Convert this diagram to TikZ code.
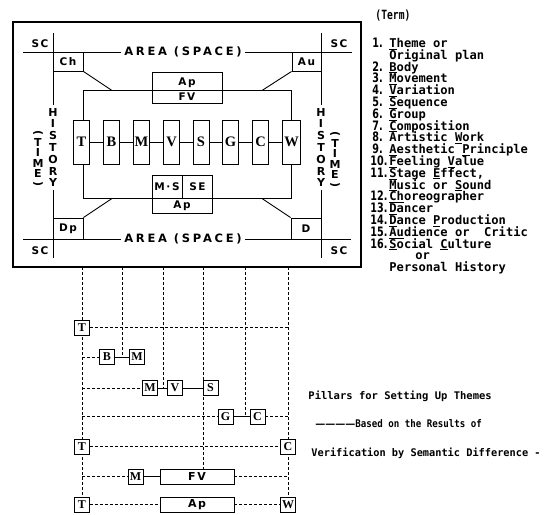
\documentclass[tikz,border=0pt]{standalone}
\usepackage{graphicx}
\usepackage{fontspec}
\setmainfont{DejaVu Sans}
\newfontfamily\rmb{Liberation Serif}
\newfontfamily\monof{DejaVu Sans Mono}
\newfontfamily\areafont{DejaVu Sans}[LetterSpace=24]
\newfontfamily\lblfont{DejaVu Sans}[LetterSpace=14]
\newcommand\uln[1]{\underline{#1}}
\newcommand\nm[1]{{\rmfamily\bfseries\fontsize{13}{13}\selectfont\scalebox{0.74}[1]{#1}}}
\begin{document}
\begin{tikzpicture}[x=1pt,y=-1pt,line width=0.9pt,
  rowbox/.style={draw,fill=white,minimum width=16pt,minimum height=44pt,inner sep=0pt,font=\rmb\bfseries\fontsize{14.5}{14.5}\selectfont},
  lbox/.style={draw,fill=white,minimum width=15pt,minimum height=15pt,inner sep=0pt,font=\rmb\bfseries\fontsize{12}{12}\selectfont},
  wbox/.style={draw,fill=white,minimum width=74pt,minimum height=15pt,inner sep=0pt,font=\lblfont\bfseries\fontsize{11}{11}\selectfont},
  lbl/.style={inner sep=0pt,font=\lblfont\bfseries\fontsize{10.5}{10.5}\selectfont},
  cbox/.style={draw,inner sep=0pt,font=\lblfont\bfseries\fontsize{10.5}{10.5}\selectfont},
  areatxt/.style={inner xsep=3pt,inner ysep=1pt,font=\areafont\bfseries\fontsize{11.5}{11.5}\selectfont},
  vtxt/.style={align=center,inner xsep=0pt,inner ysep=3pt,font=\bfseries\fontsize{11}{11.8}\selectfont},
  ttxt/.style={align=center,inner sep=0pt,font=\bfseries\fontsize{11}{10.2}\selectfont},
  dl/.style={dash pattern=on 3pt off 2pt},
  term/.style={anchor=base west,inner sep=0pt,font=\monof\bfseries\fontsize{12.1}{12.1}\selectfont},
  note/.style={anchor=base west,inner sep=0pt,font=\monof\bfseries\fontsize{10.5}{10.5}\selectfont}
]
\useasboundingbox (0,0) rectangle (546,514);
% outer frame
\draw[line width=1.3pt] (13,22) rectangle (361,267);
% AREA lines
\node[areatxt] (areaT) at (183,52) {AREA (SPACE)};
\node[areatxt] (areaB) at (183,239) {AREA (SPACE)};
\draw (23,52) -- (areaT.west);
\draw (areaT.east) -- (352,52);
\draw (23,239) -- (areaB.west);
\draw (areaB.east) -- (351,239);
% history lines
\node[vtxt] (histL) at (53,147.5) {H\\I\\S\\T\\O\\R\\Y};
\node[vtxt] (histR) at (321,147.5) {H\\I\\S\\T\\O\\R\\Y};
\draw (53,33) -- (histL.north);
\draw (histL.south) -- (53,258);
\draw (321,33) -- (histR.north);
\draw (histR.south) -- (321,258);
\node[ttxt] (timeL) at (38,159) {\rotatebox[origin=c]{-90}{(}\\T\\I\\M\\E\\\rotatebox[origin=c]{-90}{)}};
\node[ttxt] (timeR) at (335,160) {\rotatebox[origin=c]{-90}{(}\\T\\I\\M\\E\\\rotatebox[origin=c]{-90}{)}};
% SC labels
\node[lbl] (sc1) at (40,44) {SC};
\node[lbl] (sc2) at (339,44) {SC};
\node[lbl] (sc3) at (40,251) {SC};
\node[lbl] (sc4) at (339,251) {SC};
% corner boxes
\node[cbox,minimum width=30pt,minimum height=19pt] (ch) at (68,61.5) {Ch};
\node[cbox,minimum width=29pt,minimum height=19pt] (au) at (306.5,61.5) {Au};
\node[cbox,minimum width=30pt,minimum height=21pt] (dp) at (68,228.5) {Dp};
\node[cbox,minimum width=30pt,minimum height=21pt] (dd) at (306,228.5) {D};
% inner rectangle
\coordinate (i1) at (83,90.5);
\coordinate (i2) at (291,198.5);
\draw (i1) rectangle (i2);
\coordinate (d1) at (112,90.5);
\coordinate (d2) at (262,90.5);
\coordinate (d3) at (112,198.5);
\coordinate (d4) at (262,198.5);
\draw (ch.south east) -- (d1);
\draw (au.south west) -- (d2);
\draw (dp.north east) -- (d3);
\draw (dd.north west) -- (d4);
% Ap / FV box
\node[draw,minimum width=70pt,minimum height=31pt,inner sep=0pt] (apfv) at (187,87.5) {};
\node[lbl] (apT) at (187,83) {Ap};
\node[lbl] (fvT) at (187,97) {FV};
% M.S SE / Ap box
\node[draw,minimum width=60pt,minimum height=38pt,inner sep=0pt] (msse) at (182,194) {};
\draw (msse.north) -- (msse.north |- d3);
\node[lbl] (msT) at (167,187) {M{\fontspec{DejaVu Sans}\bfseries\,·\,}S};
\node[lbl] (seT) at (197.5,187) {SE};
\node[lbl] (apB) at (182,206) {Ap};
% row of boxes
\node[rowbox] (rT) at (81.5,142) {T};
\node[rowbox] (rB) at (111.5,142) {B};
\node[rowbox] (rM) at (141.5,142) {M};
\node[rowbox] (rV) at (171.5,142) {V};
\node[rowbox] (rS) at (201,142) {S};
\node[rowbox] (rG) at (230.5,142) {G};
\node[rowbox] (rC) at (260.5,142) {C};
\node[rowbox,minimum width=18pt] (rW) at (291.5,142) {W};
\draw (rT) -- (rB);
\draw (rB) -- (rM);
\draw (rM) -- (rV);
\draw (rV) -- (rS);
\draw (rS) -- (rG);
\draw (rG) -- (rC);
\draw (rC) -- (rW);
% ladder columns (top ends)
\coordinate (c1) at (82,267);
\coordinate (c2) at (122,267);
\coordinate (c3) at (163,267);
\coordinate (c4) at (203,267);
\coordinate (c5) at (245,267);
\coordinate (c6) at (288,267);
\coordinate (w7n) at (288,497);
\coordinate (fv6n) at (203,469);
% columns
\draw[dl] (c1) -- (c1 |- w7n);
\draw[dl] (c6) -- (w7n);
\draw[dl] (c2) -- (122,357);
\draw[dl] (c3) -- (163,388);
\draw[dl] (c4) -- (fv6n);
\draw[dl] (c5) -- (245,416.5);
% row 1
\node[lbox] (T1) at (82,327.5) {T};
\draw[dl] (T1.east) -- (c6 |- T1.east);
% row 2
\node[lbox] (B2) at (107,357) {B};
\node[lbox] (M2) at (137,357) {M};
\draw[dl] (c1 |- B2.west) -- (B2.west);
\draw (B2) -- (M2);
% row 3
\node[lbox] (M3) at (150,388) {M};
\node[lbox] (V3) at (175,388) {V};
\node[lbox] (S3) at (210.5,388) {S};
\draw[dl] (c1 |- M3.west) -- (M3.west);
\draw (M3) -- (V3);
\draw (V3) -- (S3);
% row 4
\node[lbox] (G4) at (225.5,416.5) {G};
\node[lbox] (C4) at (257.5,416.5) {C};
\draw[dl] (c1 |- G4.west) -- (G4.west);
\draw (G4) -- (C4);
\draw[dl] (C4.east) -- (c6 |- C4.east);
% row 5
\node[lbox] (T5) at (82,446.5) {T};
\node[lbox] (C5) at (288,446.5) {C};
\draw[dl] (T5) -- (C5);
% row 6
\node[lbox] (M6) at (135.5,476.5) {M};
\node[wbox] (FV6) at (197,476.5) {FV};
\draw[dl] (c1 |- M6.west) -- (M6.west);
\draw (M6) -- (FV6);
\draw[dl] (FV6.east) -- (c6 |- FV6.east);
% row 7
\node[lbox] (T7) at (82,504.5) {T};
\node[wbox] (Ap7) at (197,504.5) {Ap};
\node[lbox] (W7) at (288,504.5) {W};
\draw[dl] (T7) -- (Ap7);
\draw[dl] (Ap7) -- (W7);
% term list
\node[term] (head) at (375,19.5) {\scalebox{0.8}[1.05]{(Term)}};
\node[term] (n1) at (372,47.4) {\nm{1.}};
\node[term] (t1) at (389,47.4) {\uln{T}heme or};
\node[term] (t1b) at (389,59.2) {Original plan};
\node[term] (n2) at (372,71.0) {\nm{2.}};
\node[term] (t2) at (389,71.0) {\uln{B}ody};
\node[term] (n3) at (372,82.8) {\nm{3.}};
\node[term] (t3) at (389,82.8) {\uln{M}ovement};
\node[term] (n4) at (372,94.6) {\nm{4.}};
\node[term] (t4) at (389,94.6) {\uln{V}ariation};
\node[term] (n5) at (372,106.4) {\nm{5.}};
\node[term] (t5) at (389,106.4) {\uln{S}equence};
\node[term] (n6) at (372,118.2) {\nm{6.}};
\node[term] (t6) at (389,118.2) {\uln{G}roup};
\node[term] (n7) at (372,130.0) {\nm{7.}};
\node[term] (t7) at (389,130.0) {\uln{C}omposition};
\node[term] (n8) at (372,141.8) {\nm{8.}};
\node[term] (t8) at (389,141.8) {Artistic \uln{W}ork};
\node[term] (n9) at (372,153.6) {\nm{9.}};
\node[term] (t9) at (389,153.6) {\uln{A}esthetic \uln{P}rinciple};
\node[term] (n10) at (370,165.4) {\nm{10.}};
\node[term] (t10) at (389,165.4) {\uln{F}eeling \uln{V}alue};
\node[term] (n11) at (370,177.2) {\nm{11.}};
\node[term] (t11) at (389,177.2) {\uln{S}tage \uln{E}ffect,};
\node[term] (t11b) at (389,189.0) {\uln{M}usic or \uln{S}ound};
\node[term] (n12) at (370,200.8) {\nm{12.}};
\node[term] (t12) at (389,200.8) {\uln{Ch}oreographer};
\node[term] (n13) at (370,212.6) {\nm{13.}};
\node[term] (t13) at (389,212.6) {\uln{D}ancer};
\node[term] (n14) at (370,224.4) {\nm{14.}};
\node[term] (t14) at (389,224.4) {\uln{D}ance \uln{P}roduction};
\node[term] (n15) at (370,236.2) {\nm{15.}};
\node[term] (t15) at (389,236.2) {\uln{Au}dience or\ \ Critic};
\node[term] (n16) at (370,248.0) {\nm{16.}};
\node[term] (t16) at (389,248.0) {\uln{S}ocial \uln{C}ulture};
\node[term] (t16b) at (415,259.8) {or};
\node[term] (t16c) at (389,271.6) {Personal History};
% notes
\node[note] (p1) at (308,399) {Pillars for Setting Up Themes};
\node[note] (p2) at (315,427) {{\rmfamily\fontsize{10}{10}\selectfont ————}\scalebox{0.87}[1]{Based on the Results of}};
\node[note] (p3) at (311,456) {\scalebox{0.98}[1]{Verification by Semantic Difference -}};
\end{tikzpicture}
\end{document}
